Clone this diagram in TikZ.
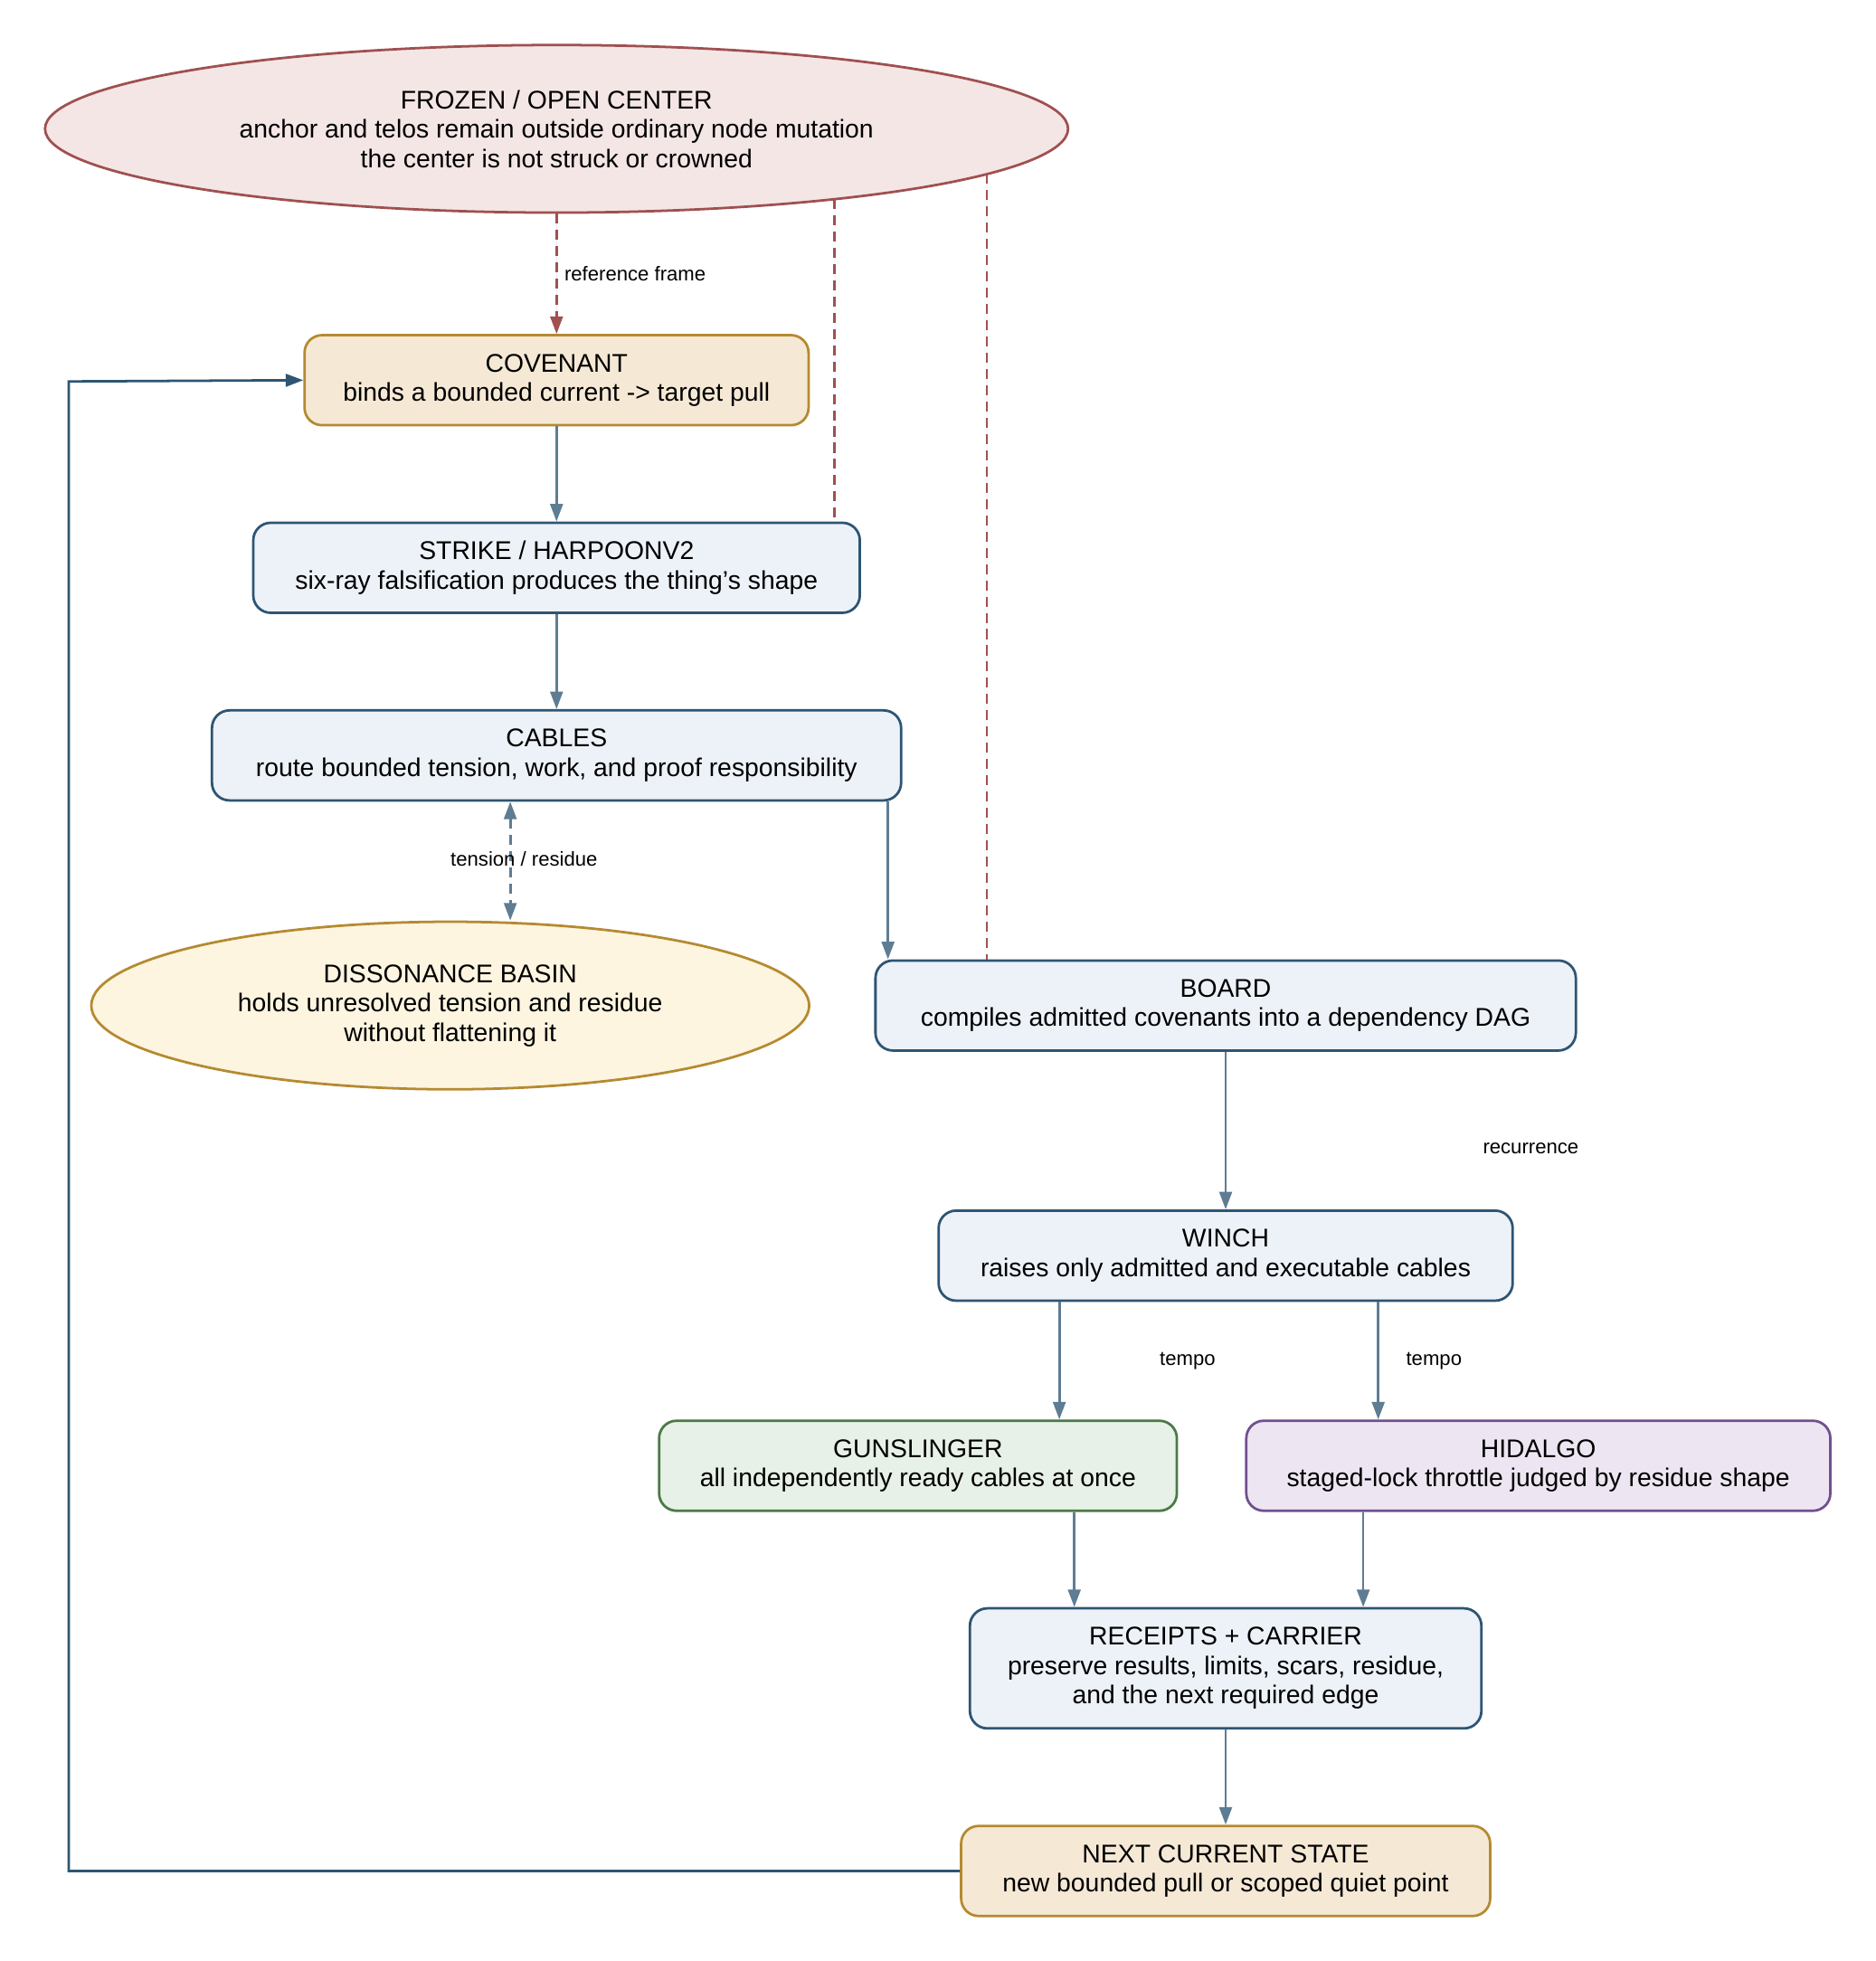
\documentclass[tikz,border=0pt]{standalone}
\usepackage{fontspec}
\setmainfont{Liberation Sans}
\usetikzlibrary{shapes.geometric,arrows.meta,positioning}
\definecolor{bluefill}{HTML}{EDF2F8}
\definecolor{blueline}{HTML}{2E5573}
\definecolor{edgeblue}{HTML}{5E7D93}
\definecolor{sandfill}{HTML}{F5E9D6}
\definecolor{sandline}{HTML}{B58A30}
\definecolor{redfill}{HTML}{F5E6E6}
\definecolor{redline}{HTML}{A05050}
\definecolor{yellowfill}{HTML}{FDF5E0}
\definecolor{greenfill}{HTML}{E8F1E8}
\definecolor{greenline}{HTML}{4A7A45}
\definecolor{purplefill}{HTML}{EDE6F2}
\definecolor{purpleline}{HTML}{70508F}

\begin{document}
\begin{tikzpicture}[
    x=1pt, y=-1pt,
    every node/.style={font=\fontsize{20.5}{23.5}\selectfont},
    stage/.style={rectangle, draw=blueline, fill=bluefill, line width=2pt, rounded corners=14pt, align=center, minimum height=72pt, inner sep=0pt},
    anchorbox/.style={stage, draw=sandline, fill=sandfill},
    hub/.style={ellipse, draw=redline, fill=redfill, line width=2pt, align=center, inner sep=0pt},
    basin/.style={ellipse, draw=sandline, fill=yellowfill, line width=2pt, align=center, inner sep=0pt},
    flow/.style={-{Stealth[length=14pt,width=10pt,inset=0pt]}, draw=edgeblue, line width=2pt},
    frame/.style={draw=redline, line width=2pt, dash pattern=on 8pt off 5pt},
    tag/.style={font=\fontsize{16}{18}\selectfont}
]
\useasboundingbox (0,0) rectangle (1500,1568);

\node[hub, minimum width=818pt, minimum height=134pt] (frozen) at (445,103) {FROZEN / OPEN CENTER\\anchor and telos remain outside ordinary node mutation\\the center is not struck or crowned};
\node[anchorbox, minimum width=403pt] (covenant) at (445,304) {COVENANT\\binds a bounded current -> target pull};
\node[stage, minimum width=485pt] (strike) at (445,454) {STRIKE / HARPOONV2\\six-ray falsification produces the thing's shape};
\node[stage, minimum width=551pt] (cables) at (445,604) {CABLES\\route bounded tension, work, and proof responsibility};
\node[basin, minimum width=574pt, minimum height=134pt] (basin) at (360,804) {DISSONANCE BASIN\\holds unresolved tension and residue\\without flattening it};
\node[stage, minimum width=560pt] (board) at (980,804) {BOARD\\compiles admitted covenants into a dependency DAG};
\node[stage, minimum width=459pt] (winch) at (980,1004) {WINCH\\raises only admitted and executable cables};
\node[stage, draw=greenline, fill=greenfill, minimum width=414pt] (gunslinger) at (734,1172) {GUNSLINGER\\all independently ready cables at once};
\node[stage, draw=purpleline, fill=purplefill, minimum width=467pt] (hidalgo) at (1230,1172) {HIDALGO\\staged-lock throttle judged by residue shape};
\node[stage, minimum width=409pt, minimum height=96pt] (receipts) at (980,1334) {RECEIPTS + CARRIER\\preserve results, limits, scars, residue,\\and the next required edge};
\node[anchorbox, minimum width=423pt] (next) at (980,1496) {NEXT CURRENT STATE\\new bounded pull or scoped quiet point};

% reference lines from the center
\coordinate (frozenA) at (667,159);
\coordinate (frozenB) at (789,139);
\coordinate (loopA) at (55,1496);
\coordinate (loopB) at (55,305);

\draw[frame, -{Stealth[length=14pt,width=10pt,inset=0pt]}, fill=redline] (frozen) -- node[tag, right=2pt, pos=0.5] {reference frame} (covenant);
\draw[frame] (frozenA) -- (frozenA |- strike.north);
\draw[frame] (frozenB) -- (frozenB |- board.north);

% main flow
\draw[flow] (covenant) -- (strike);
\draw[flow] (strike) -- (cables);
\draw[flow] (cables.south -| 710,0) -- (board.north -| 710,0);
\draw[flow, {Stealth[length=14pt,width=10pt,inset=0pt]}-{Stealth[length=14pt,width=10pt,inset=0pt]}, dash pattern=on 8pt off 5pt] (cables.south -| 408,0) -- node[tag, right=-52pt, pos=0.48] {tension / residue} (basin.north -| 408,0);
\draw[flow] (board) -- (winch);
\node[tag] (recur) at (1224,918) {recurrence};
\draw[flow] (winch.south -| 847,0) -- node[tag, right=76pt] {tempo} (gunslinger.north -| 847,0);
\draw[flow] (winch.south -| 1102,0) -- node[tag, right=18pt] {tempo} (hidalgo.north -| 1102,0);
\draw[flow] (gunslinger.south -| 859,0) -- (receipts.north -| 859,0);
\draw[flow] (hidalgo.south -| 1090,0) -- (receipts.north -| 1090,0);
\draw[flow] (receipts) -- (next);

% loop back
\draw[flow, draw=blueline] (next.west) -- (loopA) -- (loopB) -- (covenant.west);
\end{tikzpicture}
\end{document}
